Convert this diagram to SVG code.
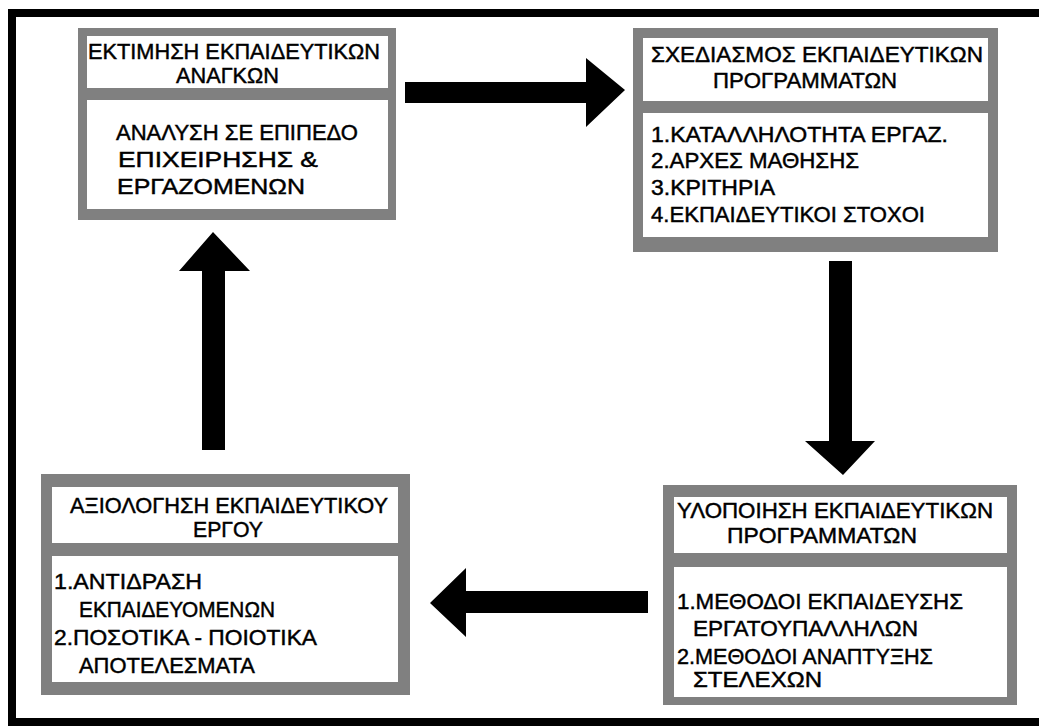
<svg xmlns="http://www.w3.org/2000/svg" width="1039" height="727" viewBox="0 0 1039 727">
  <style>
    .box { fill: #808080; }
    .pane { fill: #ffffff; }
    .lbl { font-family: "Liberation Sans", "DejaVu Sans", sans-serif; font-size: 22px; fill: #000000; stroke: #000000; stroke-width: 0.45px; }
    .arrow { fill: #000000; }
  </style>

  <!-- page background and outer frame -->
  <rect x="0" y="0" width="1039" height="727" fill="#ffffff"/>
  <rect x="12" y="13" width="1040" height="709" fill="none" stroke="#000000" stroke-width="8"/>

  <!-- needs assessment -->
  <g id="node-assessment">
    <rect class="box" x="78" y="28" width="318" height="192"/>
    <rect class="pane" x="87" y="36" width="301" height="52"/>
    <rect class="pane" x="87" y="100" width="301" height="109"/>
    <text class="lbl" x="88" y="59" textLength="292" lengthAdjust="spacingAndGlyphs">ΕΚΤΙΜΗΣΗ ΕΚΠΑΙΔΕΥΤΙΚΩΝ</text>
    <text class="lbl" x="176" y="83" textLength="103" lengthAdjust="spacingAndGlyphs">ΑΝΑΓΚΩΝ</text>
    <text class="lbl" x="116" y="140" textLength="242" lengthAdjust="spacingAndGlyphs">ΑΝΑΛΥΣΗ ΣΕ ΕΠΙΠΕΔΟ</text>
    <text class="lbl" x="118" y="167" textLength="200" lengthAdjust="spacingAndGlyphs">ΕΠΙΧΕΙΡΗΣΗΣ &amp;</text>
    <text class="lbl" x="117" y="194" textLength="188" lengthAdjust="spacingAndGlyphs">ΕΡΓΑΖΟΜΕΝΩΝ</text>
  </g>

  <!-- programme design -->
  <g id="node-design">
    <rect class="box" x="633" y="28" width="365" height="224"/>
    <rect class="pane" x="643" y="38" width="345" height="63"/>
    <rect class="pane" x="643" y="113" width="345" height="124"/>
    <text class="lbl" x="651" y="62" textLength="332" lengthAdjust="spacingAndGlyphs">ΣΧΕΔΙΑΣΜΟΣ ΕΚΠΑΙΔΕΥΤΙΚΩΝ</text>
    <text class="lbl" x="713" y="88" textLength="184" lengthAdjust="spacingAndGlyphs">ΠΡΟΓΡΑΜΜΑΤΩΝ</text>
    <text class="lbl" x="651" y="142" textLength="297" lengthAdjust="spacingAndGlyphs">1.ΚΑΤΑΛΛΗΛΟΤΗΤΑ ΕΡΓΑΖ.</text>
    <text class="lbl" x="651" y="168" textLength="208" lengthAdjust="spacingAndGlyphs">2.ΑΡΧΕΣ ΜΑΘΗΣΗΣ</text>
    <text class="lbl" x="651" y="195" textLength="124" lengthAdjust="spacingAndGlyphs">3.ΚΡΙΤΗΡΙΑ</text>
    <text class="lbl" x="651" y="222" textLength="274" lengthAdjust="spacingAndGlyphs">4.ΕΚΠΑΙΔΕΥΤΙΚΟΙ ΣΤΟΧΟΙ</text>
  </g>

  <!-- programme implementation -->
  <g id="node-implementation">
    <rect class="box" x="663" y="485" width="354" height="220"/>
    <rect class="pane" x="674" y="497" width="333" height="56"/>
    <rect class="pane" x="674" y="567" width="333" height="130"/>
    <text class="lbl" x="677" y="518" textLength="316" lengthAdjust="spacingAndGlyphs">ΥΛΟΠΟΙΗΣΗ ΕΚΠΑΙΔΕΥΤΙΚΩΝ</text>
    <text class="lbl" x="727" y="543" textLength="190" lengthAdjust="spacingAndGlyphs">ΠΡΟΓΡΑΜΜΑΤΩΝ</text>
    <text class="lbl" x="677" y="609" textLength="286" lengthAdjust="spacingAndGlyphs">1.ΜΕΘΟΔΟΙ ΕΚΠΑΙΔΕΥΣΗΣ</text>
    <text class="lbl" x="693" y="636" textLength="225" lengthAdjust="spacingAndGlyphs">ΕΡΓΑΤΟΥΠΑΛΛΗΛΩΝ</text>
    <text class="lbl" x="677" y="664" textLength="256" lengthAdjust="spacingAndGlyphs">2.ΜΕΘΟΔΟΙ ΑΝΑΠΤΥΞΗΣ</text>
    <text class="lbl" x="693" y="687" textLength="129" lengthAdjust="spacingAndGlyphs">ΣΤΕΛΕΧΩΝ</text>
  </g>

  <!-- evaluation -->
  <g id="node-evaluation">
    <rect class="box" x="41" y="474" width="369" height="221"/>
    <rect class="pane" x="52" y="487" width="346" height="56"/>
    <rect class="pane" x="52" y="556" width="346" height="126"/>
    <text class="lbl" x="70" y="513" textLength="318" lengthAdjust="spacingAndGlyphs">ΑΞΙΟΛΟΓΗΣΗ ΕΚΠΑΙΔΕΥΤΙΚΟΥ</text>
    <text class="lbl" x="193" y="537" textLength="70" lengthAdjust="spacingAndGlyphs">ΕΡΓΟΥ</text>
    <text class="lbl" x="54" y="589" textLength="148" lengthAdjust="spacingAndGlyphs">1.ΑΝΤΙΔΡΑΣΗ</text>
    <text class="lbl" x="79" y="617" textLength="196" lengthAdjust="spacingAndGlyphs">ΕΚΠΑΙΔΕΥΟΜΕΝΩΝ</text>
    <text class="lbl" x="54" y="645" textLength="263" lengthAdjust="spacingAndGlyphs">2.ΠΟΣΟΤΙΚΑ - ΠΟΙΟΤΙΚΑ</text>
    <text class="lbl" x="79" y="673" textLength="176" lengthAdjust="spacingAndGlyphs">ΑΠΟΤΕΛΕΣΜΑΤΑ</text>
  </g>

  <!-- block arrows of the cycle -->
  <g id="connectors">
    <polygon class="arrow" points="405,82 586,82 586,58 625,90 586,127 586,103 405,103"/>
    <polygon class="arrow" points="829,261 852,261 852,441 875,441 843,475 805,441 829,441"/>
    <polygon class="arrow" points="648,591 648,613 466,613 466,637 430,603 466,568 466,591"/>
    <polygon class="arrow" points="202,450 202,271 179,271 213,232 250,271 225,271 225,450"/>
  </g>
</svg>
